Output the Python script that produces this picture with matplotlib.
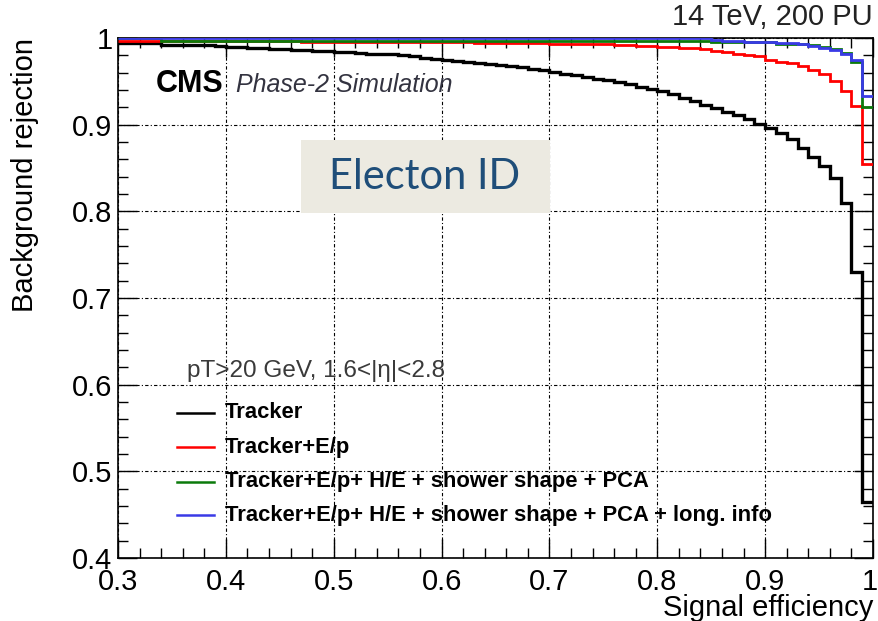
import numpy as np
import matplotlib
matplotlib.use("Agg")
import matplotlib.pyplot as plt
from matplotlib.patches import Rectangle
from matplotlib.ticker import MultipleLocator, FuncFormatter, FormatStrFormatter

plt.rcParams['font.family'] = ['Liberation Sans', 'DejaVu Sans']

# signal efficiency bins (0.01 wide, 0.30 -> 1.00)
edges = np.round(np.arange(0.30, 1.0001, 0.01), 2)

# background rejection per bin
tracker = [0.994, 0.994, 0.994, 0.994, 0.9925, 0.9925, 0.992, 0.992, 0.9915, 0.991,
           0.990, 0.9895, 0.989, 0.988, 0.9875, 0.987, 0.9865, 0.986, 0.985, 0.9845,
           0.984, 0.9835, 0.983, 0.982, 0.9815, 0.981, 0.980, 0.979, 0.9775, 0.976,
           0.9745, 0.9735, 0.9725, 0.9715, 0.970, 0.969, 0.9675, 0.966, 0.9645, 0.963,
           0.961, 0.959, 0.957, 0.955, 0.953, 0.951, 0.949, 0.9465, 0.944, 0.9415,
           0.9385, 0.935, 0.931, 0.927, 0.923, 0.919, 0.915, 0.911, 0.906, 0.901,
           0.896, 0.890, 0.883, 0.873, 0.863, 0.852, 0.838, 0.810, 0.730, 0.465]
tracker_ep = [0.997, 0.997, 0.997, 0.997, 0.9965, 0.9965, 0.9965, 0.9965, 0.9965, 0.9965,
              0.9965, 0.9965, 0.9965, 0.9965, 0.9965, 0.9965, 0.9965, 0.9958, 0.9958, 0.9958,
              0.9958, 0.9958, 0.9958, 0.9958, 0.9958, 0.9958, 0.9958, 0.9958, 0.9958, 0.9958,
              0.9958, 0.9958, 0.9958, 0.9946, 0.9946, 0.9946, 0.9946, 0.9946, 0.9946, 0.9946,
              0.993, 0.993, 0.993, 0.993, 0.993, 0.993, 0.992, 0.992, 0.991, 0.991,
              0.990, 0.990, 0.988, 0.988, 0.987, 0.985, 0.984, 0.982, 0.980, 0.979,
              0.975, 0.9727, 0.971, 0.968, 0.963, 0.959, 0.950, 0.939, 0.9215, 0.855]
tracker_ep_shower = [0.9995, 0.9995, 0.9995, 0.9995, 0.9965, 0.9965, 0.9965, 0.9965, 0.9965, 0.9965,
                     0.9965, 0.9965, 0.9965, 0.9965, 0.9965, 0.9965, 0.9965, 0.9965, 0.9965, 0.9965,
                     0.9965, 0.9965, 0.9965, 0.9965, 0.9965, 0.9965, 0.9965, 0.9965, 0.9965, 0.9965,
                     0.9965, 0.9965, 0.9965, 0.9965, 0.9965, 0.9965, 0.9965, 0.9965, 0.9965, 0.9965,
                     0.9965, 0.9965, 0.9965, 0.9965, 0.9965, 0.996, 0.996, 0.996, 0.996, 0.996,
                     0.996, 0.996, 0.996, 0.996, 0.996, 0.995, 0.995, 0.995, 0.995, 0.995,
                     0.995, 0.9935, 0.9935, 0.993, 0.992, 0.990, 0.987, 0.983, 0.972, 0.920]
tracker_ep_shower_long = [0.9995] * 55 + [0.998, 0.997, 0.9965, 0.995, 0.995,
                                          0.995, 0.9945, 0.994, 0.993, 0.991,
                                          0.989, 0.986, 0.982, 0.9745, 0.9335]

labels = ["Tracker", "Tracker+E/p",
          "Tracker+E/p+ H/E + shower shape + PCA",
          "Tracker+E/p+ H/E + shower shape + PCA + long. info"]
colors = ["black", "#ff0000", "#0b7a0b", "#3a3ae6"]
widths = [2.4, 2.0, 2.0, 2.0]
series = [tracker, tracker_ep, tracker_ep_shower, tracker_ep_shower_long]

W, H = 879, 621
fig = plt.figure(figsize=(W / 100, H / 100), dpi=100)
ax = fig.add_axes([118 / W, 1 - 558 / H, (873 - 118) / W, (558 - 38) / H])

for vals, c, lw in zip(series, colors, widths):
    ax.stairs(vals, edges, color=c, linewidth=lw, baseline=None, zorder=3)

ax.set_xlim(0.3, 1.0)
ax.set_ylim(0.4, 1.0)
ax.xaxis.set_major_locator(MultipleLocator(0.1))
ax.xaxis.set_minor_locator(MultipleLocator(0.02))
ax.yaxis.set_major_locator(MultipleLocator(0.1))
ax.yaxis.set_minor_locator(MultipleLocator(0.02))
# "1" at the right end is drawn separately, a bit inward
ax.xaxis.set_major_formatter(FuncFormatter(lambda v, p: '' if v > 0.999 else '%g' % v))
ax.yaxis.set_major_formatter(FormatStrFormatter('%g'))
ax.tick_params(which='both', direction='in', top=True, right=True, width=1.0,
               labelsize=21)
ax.tick_params(which='major', length=14)
ax.tick_params(which='minor', length=7)
ax.tick_params(axis='x', pad=7)
ax.tick_params(axis='y', pad=4)
for s in ax.spines.values():
    s.set_linewidth(1.2)
ax.grid(True, which='major', color='black', linestyle=(0, (3, 2, 1, 2)), linewidth=0.8)
ax.set_axisbelow(True)

ax.set_xlabel("Signal efficiency", fontsize=21, ha='right', va='top')
ax.xaxis.set_label_coords(1.0, (558 - 594) / 520)
ax.set_ylabel("Background rejection", fontsize=21, ha='right', va='center')
ax.yaxis.set_label_coords((25 - 118) / 755, 1.0)

def fx(px):
    return px / W

def fy(py):
    return 1 - py / H

fig.text(fx(870), fy(568), "1", fontsize=21, ha='center', va='top')
fig.text(fx(873), fy(17), "14 TeV, 200 PU", fontsize=21, ha='right', va='center',
         color='#222222')
fig.text(fx(156), fy(92), "CMS", fontsize=22, fontweight='bold', ha='left',
         va='baseline', color='black')
fig.text(fx(236), fy(92), "Phase-2 Simulation", fontsize=18, style='italic',
         ha='left', va='baseline', color='#333340')

# title box
fig.add_artist(Rectangle((fx(301), fy(213)), (550 - 301) / W, (213 - 140) / H,
                         transform=fig.transFigure, facecolor='#eceae1',
                         edgecolor='none', zorder=5))
fig.text(fx(425), fy(177), "Electon ID", fontsize=30, family=['Lato', 'DejaVu Sans'],
         color='#1f4e79', ha='center', va='center', zorder=6)

# legend
fig.text(fx(187), fy(377), "pT>20 GeV, 1.6<|η|<2.8", fontsize=17.5, ha='left',
         va='baseline', color='#3a3a3a')
rows = [413, 447, 482, 515]
for lab, c, py in zip(labels, colors, rows):
    fig.add_artist(plt.Line2D([fx(177), fx(214)], [fy(py), fy(py)], color=c,
                              linewidth=1.8, transform=fig.transFigure))
    fig.text(fx(225), fy(py), lab, fontsize=15.8, fontweight='bold', ha='left',
             va='center', color='black')

fig.savefig("out.png", dpi=100)
